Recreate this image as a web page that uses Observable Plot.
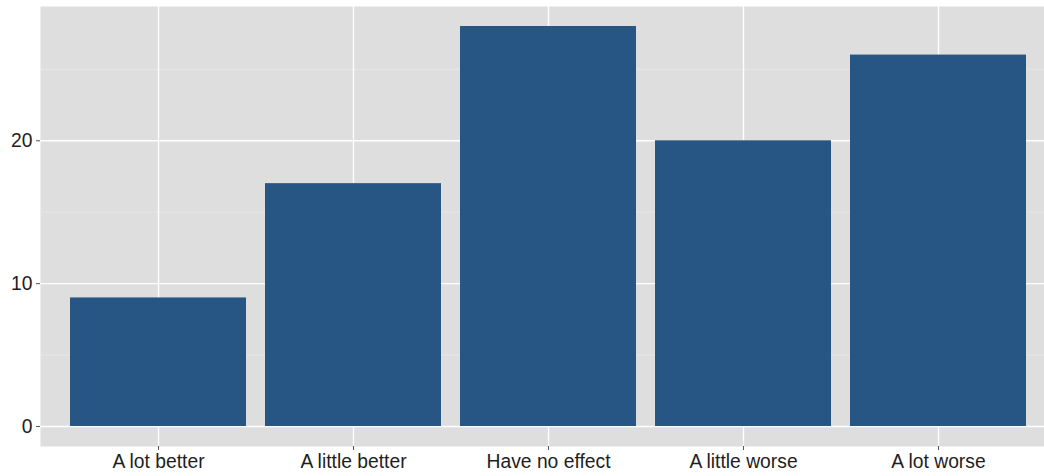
<!DOCTYPE html>
<html>
<head>
<meta charset="utf-8">
<script src="https://cdn.jsdelivr.net/npm/d3@7"></script>
<script src="https://cdn.jsdelivr.net/npm/@observablehq/plot@0.6"></script>
<style>
  html, body { margin: 0; padding: 0; background: #fff; overflow: hidden; }
  #chart svg { display: block; max-width: none !important; }
</style>
</head>
<body>
<div id="chart"></div>
<script>
const categories = ["A lot better", "A little better", "Have no effect", "A little worse", "A lot worse"];
const counts = [9, 17, 28, 20, 26];
const majorTicks = [0, 10, 20];
const minorTicks = [5, 15, 25];

const data = categories.map((c, i) => ({category: c, count: counts[i]}));

const chart = Plot.plot({
  width: 1055,
  height: 476,
  marginLeft: 40,
  marginRight: 0,
  marginTop: 6,
  marginBottom: 30,
  style: {fontFamily: "Liberation Sans, Arial, sans-serif", fontSize: "19.3px", color: "#1e1e1e", background: "#fff", maxWidth: "none", overflow: "hidden"},
  x: {domain: categories, paddingInner: 0.1, paddingOuter: 0.15, label: null},
  y: {domain: [-1.4, 29.4], label: null},
  marks: [
    Plot.frame({fill: "#DEDEDE", stroke: null}),
    Plot.ruleY(minorTicks, {stroke: "#EAEAEA", strokeWidth: 0.8}),
    Plot.ruleY(majorTicks, {stroke: "#FFFFFF", strokeWidth: 1.4}),
    Plot.ruleX(categories, {x: d => d, stroke: "#FFFFFF", strokeWidth: 1.4}),
    Plot.barY(data, {x: "category", y: "count", fill: "#285684"}),
    Plot.axisY({ticks: majorTicks, tickSize: 4, tickPadding: 4, stroke: "#555", fill: "#1e1e1e", fontSize: 19.3, label: null}),
    Plot.axisX({tickSize: 4, tickPadding: 4, stroke: "#555", fill: "#1e1e1e", fontSize: 19.3, label: null})
  ]
});
document.getElementById("chart").appendChild(chart);
</script>
</body>
</html>
